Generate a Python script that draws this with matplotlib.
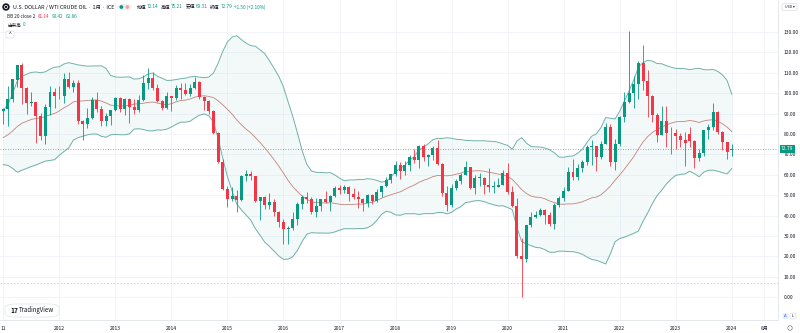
import numpy as np
import pandas as pd
import matplotlib.pyplot as plt
from matplotlib.patches import Ellipse, FancyBboxPatch

plt.rcParams['font.family'] = ['Noto Sans CJK JP', 'DejaVu Sans']

# closes before the first visible bar (Jun 2009 - Dec 2010), only for the BB(20) warm-up
warmup_closes = [69.89, 69.45, 69.96, 70.61, 77.00, 77.28, 79.36,
                 72.89, 79.66, 83.76, 86.15, 73.97, 75.63, 78.95, 71.92, 79.97, 81.43, 84.11, 91.38]

# monthly bars Jan 2011 - Jan 2024
opens = [
    91.38, 92.19, 97.00, 106.70, 113.93, 102.70, 95.42, 95.70, 88.81, 79.20, 93.19, 100.36,   # 2011
    98.83, 98.48, 107.07, 103.02, 104.87, 86.53, 84.96, 88.06, 96.47, 92.19, 86.24, 88.91,    # 2012
    91.82, 97.49, 92.05, 97.23, 93.46, 91.97, 96.56, 105.03, 107.65, 102.33, 96.38, 92.72,    # 2013
    98.42, 97.49, 102.59, 101.58, 99.74, 102.71, 105.37, 98.17, 95.96, 91.16, 80.54, 66.15,   # 2014
    53.27, 48.24, 49.76, 47.60, 59.63, 60.30, 59.47, 47.12, 49.20, 45.09, 46.59, 41.65,       # 2015
    37.04, 33.62, 33.75, 38.34, 45.92, 49.10, 48.33, 41.60, 44.70, 48.24, 46.86, 49.44,       # 2016
    53.72, 52.81, 54.01, 50.60, 49.33, 48.32, 46.04, 50.17, 47.23, 51.67, 54.38, 57.40,       # 2017
    60.42, 64.73, 61.64, 64.94, 68.57, 67.04, 74.15, 68.76, 69.80, 73.25, 65.31, 50.93,       # 2018
    45.41, 53.79, 57.22, 60.14, 63.91, 53.50, 58.47, 58.58, 55.10, 54.07, 54.18, 55.17,       # 2019
    61.06, 51.56, 44.76, 20.48, 18.84, 35.49, 39.27, 40.27, 42.61, 40.22, 35.79, 45.34,       # 2020
    48.52, 52.20, 61.50, 59.16, 63.58, 66.32, 73.47, 73.95, 68.50, 75.03, 83.57, 66.18,       # 2021
    75.21, 88.15, 95.72, 100.28, 104.69, 114.67, 105.76, 98.62, 89.55, 79.49, 86.53, 80.55,   # 2022
    80.26, 78.87, 77.05, 80.10, 76.78, 68.09, 70.64, 81.80, 83.63, 90.79, 81.02, 75.96,       # 2023
    72.14,                                                                                   # 2024
]
highs = [
    92.58, 103.41, 106.95, 113.98, 114.83, 102.90, 100.62, 95.84, 90.52, 94.65, 103.37, 102.44,
    103.74, 109.95, 110.55, 106.23, 106.29, 87.02, 92.94, 98.29, 100.42, 93.81, 90.33, 91.41,
    98.24, 98.24, 97.76, 97.80, 97.00, 99.00, 108.93, 112.24, 110.50, 104.41, 96.90, 100.75,
    98.50, 103.99, 105.22, 104.99, 104.50, 107.73, 106.00, 98.78, 96.44, 91.91, 81.09, 68.00,
    54.50, 54.24, 52.48, 59.90, 62.58, 61.92, 59.50, 49.33, 49.47, 50.92, 48.36, 42.08,
    38.39, 34.82, 41.90, 46.78, 50.21, 51.67, 49.09, 48.75, 48.32, 51.93, 49.95, 54.51,
    55.24, 54.94, 54.30, 53.76, 52.00, 48.57, 50.43, 50.43, 52.86, 54.61, 59.05, 60.51,
    66.66, 66.40, 66.66, 69.56, 72.90, 74.46, 75.27, 70.41, 73.89, 76.90, 65.74, 54.55,
    55.37, 57.81, 60.73, 66.60, 63.99, 59.93, 60.94, 58.76, 63.38, 56.92, 58.66, 62.34,
    65.65, 54.66, 48.66, 29.13, 35.63, 41.63, 42.52, 43.78, 43.43, 41.95, 46.26, 49.43,
    53.93, 63.81, 67.98, 65.47, 67.30, 74.45, 76.98, 74.00, 76.67, 85.41, 84.97, 77.37,
    88.84, 100.54, 130.50, 108.28, 115.67, 123.68, 111.45, 98.90, 90.39, 93.64, 93.74, 83.34,
    82.66, 80.62, 81.04, 83.53, 77.00, 72.72, 82.04, 84.89, 95.03, 91.20, 81.50, 76.18,
    75.21,
]
lows = [
    84.94, 84.06, 95.59, 102.90, 94.63, 89.61, 93.60, 75.71, 77.11, 74.95, 89.55, 92.52,
    97.38, 95.44, 102.76, 100.68, 84.68, 77.28, 82.84, 87.23, 90.61, 84.05, 84.05, 84.62,
    91.38, 90.88, 89.33, 85.61, 89.96, 91.00, 96.42, 102.22, 101.51, 95.79, 91.77, 92.50,
    91.24, 96.62, 97.37, 98.90, 98.69, 101.88, 97.30, 91.59, 89.70, 79.78, 65.69, 52.44,
    44.20, 47.36, 42.03, 47.05, 57.10, 57.33, 46.68, 37.75, 43.21, 43.23, 40.00, 34.53,
    26.19, 26.05, 32.98, 35.24, 43.03, 46.41, 40.57, 39.19, 42.52, 46.34, 42.20, 49.35,
    50.71, 51.22, 47.09, 48.18, 43.76, 42.05, 44.40, 45.58, 46.54, 49.10, 54.13, 55.82,
    59.61, 58.07, 59.95, 61.84, 65.80, 63.59, 66.92, 64.43, 67.06, 64.85, 49.41, 42.36,
    44.35, 52.51, 55.46, 59.83, 53.05, 50.60, 54.68, 50.52, 51.71, 50.99, 54.01, 55.03,
    50.58, 44.00, 19.27, 0.00, 17.27, 34.36, 38.72, 39.82, 36.13, 34.92, 33.64, 44.24,
    47.18, 51.94, 57.25, 57.63, 61.56, 64.95, 65.01, 61.74, 67.58, 74.96, 64.43, 62.43,
    74.27, 85.73, 95.02, 92.93, 97.20, 101.53, 88.23, 85.73, 76.25, 79.32, 73.60, 70.08,
    72.50, 73.80, 64.12, 73.83, 63.57, 66.80, 69.05, 77.59, 81.86, 79.77, 72.37, 67.71,
    69.31,
]
closes = [
    92.19, 96.97, 106.72, 113.93, 102.70, 95.42, 95.70, 88.81, 79.20, 93.19, 100.36, 98.83,
    98.48, 107.07, 103.02, 104.87, 86.53, 84.96, 88.06, 96.47, 92.19, 86.24, 88.91, 91.82,
    97.49, 92.05, 97.23, 93.46, 91.97, 96.56, 105.03, 107.65, 102.33, 96.38, 92.72, 98.42,
    97.49, 102.59, 101.58, 99.74, 102.71, 105.37, 98.17, 95.96, 91.16, 80.54, 66.15, 53.27,
    48.24, 49.76, 47.60, 59.63, 60.30, 59.47, 47.12, 49.20, 45.09, 46.59, 41.65, 37.04,
    33.62, 33.75, 38.34, 45.92, 49.10, 48.33, 41.60, 44.70, 48.24, 46.86, 49.44, 53.72,
    52.81, 54.01, 50.60, 49.33, 48.32, 46.04, 50.17, 47.23, 51.67, 54.38, 57.40, 60.42,
    64.73, 61.64, 64.94, 68.57, 67.04, 74.15, 68.76, 69.80, 73.25, 65.31, 50.93, 45.41,
    53.79, 57.22, 60.14, 63.91, 53.50, 58.47, 58.58, 55.10, 54.07, 54.18, 55.17, 61.06,
    51.56, 44.76, 20.48, 18.84, 35.49, 39.27, 40.27, 42.61, 40.22, 35.79, 45.34, 48.52,
    52.20, 61.50, 59.16, 63.58, 66.32, 73.47, 73.95, 68.50, 75.03, 83.57, 66.18, 75.21,
    88.15, 95.72, 100.28, 104.69, 114.67, 105.76, 98.62, 89.55, 79.49, 86.53, 80.55, 80.26,
    78.87, 77.05, 75.67, 76.78, 68.09, 70.64, 81.80, 83.63, 90.79, 81.02, 75.96, 71.29,
    72.79,
]

year_labels = ['11', '2012', '2013', '2014', '2015', '2016', '2017', '2018',
               '2019', '2020', '2021', '2022', '2023', '2024', '8月']
last_price = 72.79

UP = '#089981'
DOWN = '#f23645'
TXT = '#131722'

# Bollinger bands 20 / 2 on close
s = pd.Series(warmup_closes + closes)
basis = s.rolling(20).mean().iloc[len(warmup_closes):].to_numpy()
dev = s.rolling(20).std(ddof=0).iloc[len(warmup_closes):].to_numpy()
upper = basis + 2 * dev
lower = basis - 2 * dev

W, H = 800, 333
fig = plt.figure(figsize=(8, 3.33), dpi=100)
fig.patch.set_facecolor('white')
ax = fig.add_axes([0, 13 / H, 778 / W, 320 / H])
renderer = fig.canvas.get_renderer()

def px(x, y):
    return x / W, 1 - y / H

def run_text(x0, y, parts, size):
    # put text pieces one after the other, gap in pixels after each
    xx = x0
    for txt, col, gap in parts:
        t = fig.text(*px(xx, y), txt, fontsize=size, color=col, ha='left', va='center')
        xx += t.get_window_extent(renderer).width + gap
    return xx

x = np.arange(len(closes))
o = np.array(opens)
c = np.array(closes)
colors = [UP if cc >= oo else DOWN for oo, cc in zip(o, c)]

# bands
ax.fill_between(x, lower, upper, color='#089981', alpha=0.05, lw=0)
ax.plot(x, upper, color='#6fb1a9', lw=0.7)
ax.plot(x, lower, color='#6fb1a9', lw=0.7)
ax.plot(x, basis, color='#c4837c', lw=0.6)

# candles
ax.vlines(x, lows, highs, colors=colors, lw=0.6, zorder=3)
body = np.maximum(np.abs(c - o), 0.35)
ax.bar(x, body, bottom=np.minimum(o, c), width=0.64, color=colors, lw=0, zorder=4)

# lines
ax.axhline(last_price, color=UP, lw=0.6, ls=(0, (1, 2)), alpha=0.8)
ax.axhline(7, color='#f3b9bf', lw=0.6, ls=(0, (2, 2)))

ax.set_xlim(-0.707, 165.9)
ax.set_ylim(-11.12, 145.66)

ax.set_xticks([0, 12, 24, 36, 48, 60, 72, 84, 96, 108, 120, 132, 144, 156, 163])
ax.set_xticklabels(year_labels)
ax.set_yticks(np.arange(0, 131, 10))
ax.set_yticklabels([f'{v:.2f}' for v in np.arange(0, 131, 10)])
ax.yaxis.tick_right()
ax.tick_params(axis='y', length=0, pad=4.0, labelsize=3.6, labelcolor=TXT)
ax.tick_params(axis='x', length=0, pad=4.3, labelsize=3.6, labelcolor=TXT)
ax.grid(True, color='#f0f3fa', lw=0.6)
ax.set_axisbelow(True)
for sp in ['top', 'left']:
    ax.spines[sp].set_visible(False)
for sp in ['right', 'bottom']:
    ax.spines[sp].set_color('#e0e3eb')
    ax.spines[sp].set_linewidth(0.6)

# last price label
ax.annotate(f'{last_price:.2f}', xy=(1.004, last_price), xycoords=('axes fraction', 'data'),
            ha='left', va='center', fontsize=3.6, color='white', annotation_clip=False,
            bbox=dict(boxstyle='square,pad=0.3', fc=UP, ec='none'))

# legend block
fig.add_artist(Ellipse(px(6, 7), 6 / W, 6 / H, color=TXT, transform=fig.transFigure))
fig.add_artist(Ellipse(px(6, 7), 3.2 / W, 3.2 / H, fc='none', ec='white', lw=0.5,
                       transform=fig.transFigure))
end = run_text(13, 7, [('U.S. DOLLAR / WTI CRUDE OIL · 1月 · ICE', TXT, 3)], 3.9)
fig.add_artist(FancyBboxPatch(px(end, 10), 14 / W, 6 / H, boxstyle='round,pad=0,rounding_size=0.008',
                              fc='#eef1f6', ec='none', transform=fig.transFigure))
fig.add_artist(Ellipse(px(end + 4, 7), 2.4 / W, 2.4 / H, color=UP, transform=fig.transFigure))
fig.add_artist(Ellipse(px(end + 10, 7), 2.4 / W, 2.4 / H, color='#f7a1aa', transform=fig.transFigure))
run_text(end + 19, 7, [('始値', TXT, 0.5), ('72.14', UP, 3), ('高値', TXT, 0.5), ('75.21', UP, 3),
                       ('安値', TXT, 0.5), ('69.31', UP, 3), ('終値', TXT, 0.5), ('72.79', UP, 2),
                       ('+1.50 (+2.10%)', UP, 0)], 3.4)

run_text(7, 16, [('BB 20 close 2', TXT, 2.5), ('81.14', DOWN, 2.5), ('99.42', UP, 2.5),
                 ('62.86', UP, 0)], 3.3)
run_text(7, 25, [('出来高', TXT, 2), ('0', UP, 0)], 3.3)
fig.add_artist(FancyBboxPatch(px(6, 38), 8 / W, 7 / H, boxstyle='round,pad=0,rounding_size=0.003',
                              fc='white', ec='#d1d4dc', lw=0.4, transform=fig.transFigure))
fig.text(*px(10, 34.5), '^', fontsize=3.5, color=TXT, ha='center', va='center')

# currency selector
fig.add_artist(FancyBboxPatch(px(782, 10.5), 15 / W, 7 / H, boxstyle='round,pad=0,rounding_size=0.003',
                              fc='white', ec='#d1d4dc', lw=0.4, transform=fig.transFigure))
fig.text(*px(789.5, 7), 'USD ▾', fontsize=2.6, color=TXT, ha='center', va='center')

# A / L buttons and gear
fig.add_artist(FancyBboxPatch(px(782.5, 319), 6 / W, 6 / H, boxstyle='round,pad=0,rounding_size=0.003',
                              fc='#e3effd', ec='none', transform=fig.transFigure))
fig.text(*px(785.5, 316), 'A', fontsize=3, color='#2962ff', ha='center', va='center')
fig.add_artist(FancyBboxPatch(px(790, 319), 6 / W, 6 / H, boxstyle='round,pad=0,rounding_size=0.003',
                              fc='white', ec='#d1d4dc', lw=0.4, transform=fig.transFigure))
fig.text(*px(793, 316), 'L', fontsize=3, color=TXT, ha='center', va='center')
fig.add_artist(Ellipse(px(790, 328), 4.5 / W, 4.5 / H, fc='none', ec='#787b86', lw=0.5,
                       transform=fig.transFigure))

# TradingView badge
fig.add_artist(FancyBboxPatch(px(5, 317), 54 / W, 13 / H, boxstyle='round,pad=0,rounding_size=0.012',
                              fc='white', ec='#e0e3eb', lw=0.5, transform=fig.transFigure))
fig.text(*px(10, 310.5), '17', fontsize=4.8, color=TXT, weight='bold', ha='left', va='center')
fig.text(*px(19, 310.5), 'TradingView', fontsize=4.4, color=TXT, ha='left', va='center')

fig.savefig('out.png', dpi=100, facecolor='white')
